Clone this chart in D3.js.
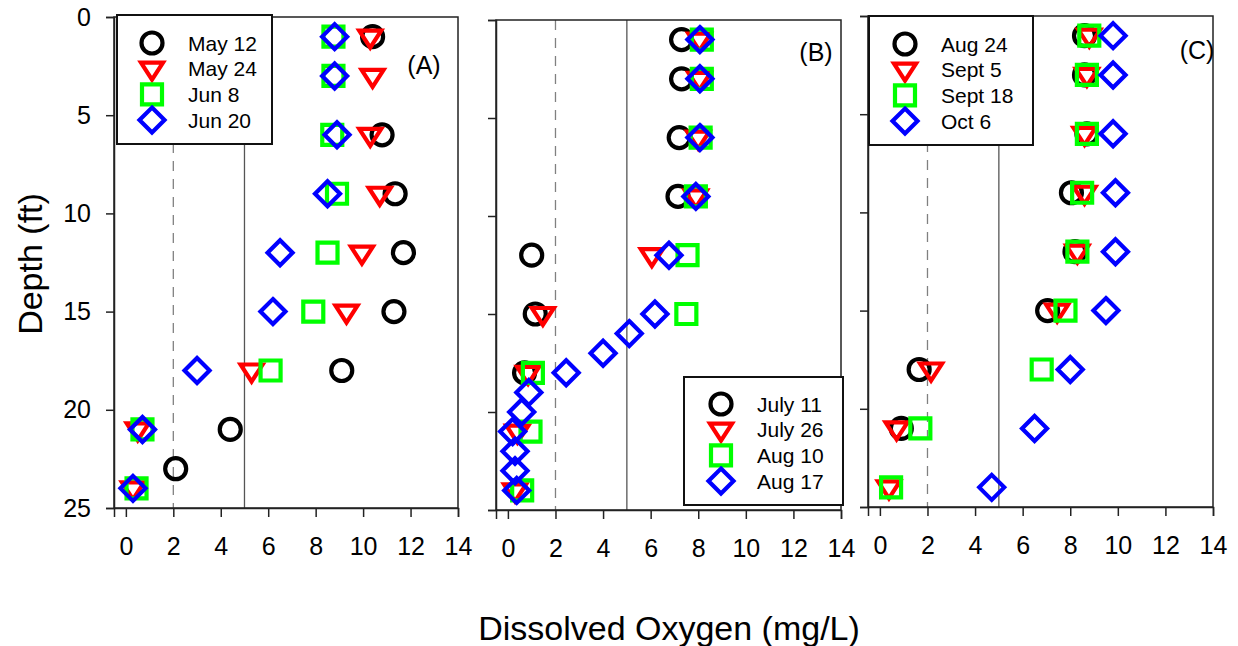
<!DOCTYPE html>
<html>
<head>
<meta charset="utf-8">
<script src="https://cdn.jsdelivr.net/npm/d3@7"></script>
<style>
    body { margin: 0; background: #fff; }
    svg { font-family: Arial, "Liberation Sans", sans-serif; }
</style>
</head>
<body>
<div id="chart"></div>
<script>
// depth (ft) of each profile reading
var depthStd = [1, 3, 6, 9, 12, 15, 18, 21, 24];
var depthMay12 = [1, 6, 9, 12, 15, 18, 21, 23];
var depthJuly11 = [1, 3, 6, 9, 12, 15, 18];
var depthAug17 = [1, 3, 6, 9, 12, 15, 16, 17, 18, 19, 20, 21, 22, 23, 24];
var depthAug24 = [1, 3, 6, 9, 12, 15, 18, 21];

// dissolved oxygen (mg/L)
var may12 = [10.4, 10.8, 11.35, 11.7, 11.3, 9.1, 4.4, 2.1];
var may24 = [10.3, 10.4, 10.3, 10.7, 9.95, 9.3, 5.3, 0.5, 0.3];
var jun8 = [8.75, 8.75, 8.7, 8.9, 8.5, 7.9, 6.1, 0.7, 0.45];
var jun20 = [8.8, 8.8, 8.9, 8.5, 6.5, 6.2, 3.0, 0.7, 0.3];

var july11 = [7.3, 7.3, 7.2, 7.15, 1.0, 1.15, 0.7];
var july26 = [8.05, 8.05, 8.0, 7.9, 6.05, 1.47, 0.85, 0.4, 0.3];
var aug10 = [8.15, 8.15, 8.1, 7.9, 7.55, 7.5, 1.05, 0.95, 0.6];
var aug17 = [8.07, 8.07, 8.07, 7.9, 6.77, 6.18, 5.1, 4.0, 2.45, 0.88, 0.58, 0.2, 0.3, 0.3, 0.37];

var aug24 = [8.6, 8.6, 8.7, 8.05, 8.2, 7.05, 1.65, 0.9];
var sept5 = [8.8, 8.7, 8.6, 8.6, 8.3, 7.45, 2.15, 0.7, 0.38];
var sept18 = [8.8, 8.7, 8.7, 8.5, 8.3, 7.8, 6.8, 1.7, 0.47];
var oct6 = [9.8, 9.8, 9.8, 9.9, 9.9, 9.5, 8.0, 6.5, 4.7];

var labelsA = ["May 12", "May 24", "Jun 8", "Jun 20"];
var labelsB = ["July 11", "July 26", "Aug 10", "Aug 17"];
var labelsC = ["Aug 24", "Sept 5", "Sept 18", "Oct 6"];

var xTicks = [0, 2, 4, 6, 8, 10, 12, 14];
var yTicks = [0, 5, 10, 15, 20, 25];
var refLines = [2, 5];   // dashed / solid guide lines

var colors = ["#000000", "#ff0000", "#00ff00", "#0000ff"];
var shapes = ["circle", "triangle", "square", "diamond"];

var width = 1238, height = 646;

var panels = [
    {left: 114, right: 458, top: 17, bottom: 508, tag: "(A)", tagX: 424, tagY: 65, yLabels: true,
        series: [[depthMay12, may12], [depthStd, may24], [depthStd, jun8], [depthStd, jun20]],
        labels: labelsA, legend: {x: 117, y: 15, w: 155, h: 129, sx: 152, tx: 188, ry: 43}},
    {left: 496, right: 841, top: 20, bottom: 510, tag: "(B)", tagX: 816, tagY: 52, yLabels: false,
        series: [[depthJuly11, july11], [depthStd, july26], [depthStd, aug10], [depthAug17, aug17]],
        labels: labelsB, legend: {x: 684, y: 377, w: 159, h: 128, sx: 721, tx: 757, ry: 404}},
    {left: 868, right: 1213, top: 16, bottom: 507, tag: "(C)", tagX: 1197, tagY: 50, yLabels: false,
        series: [[depthAug24, aug24], [depthStd, sept5], [depthStd, sept18], [depthStd, oct6]],
        labels: labelsC, legend: {x: 869, y: 16, w: 164, h: 129, sx: 905, tx: 941, ry: 44}}
];

function symbolPath(type) {
    if (type === "circle") {
        var r = 10.5;
        return "M" + r + ",0A" + r + "," + r + " 0 1,1 " + (-r) + ",0A" + r + "," + r + " 0 1,1 " + r + ",0Z";
    } else if (type === "triangle") {
        return "M-11,-6L11,-6L0,11Z";
    } else if (type === "square") {
        return "M-10,-10L10,-10L10,10L-10,10Z";
    }
    return "M0,-12.5L12.5,0L0,12.5L-12.5,0Z";
}

var svg = d3.select("#chart")
    .append("svg")
    .attr("width", width)
    .attr("height", height);

panels.forEach(function (p) {
    var x = d3.scaleLinear().domain([-0.5, 14]).range([p.left, p.right]);
    var y = d3.scaleLinear().domain([0, 25]).range([p.top, p.bottom]);
    var g = svg.append("g");

    // guide lines at 2 and 5 mg/L
    g.selectAll(".ref")
        .data(refLines)
        .enter()
        .append("line")
        .attr("x1", function (d) { return x(d); })
        .attr("x2", function (d) { return x(d); })
        .attr("y1", y(0))
        .attr("y2", y(25))
        .attr("stroke", function (d) { return d === 2 ? "#808080" : "#555"; })
        .attr("stroke-width", 1.3)
        .attr("stroke-dasharray", function (d) { return d === 2 ? "10,8" : null; });

    g.append("rect")
        .attr("x", x(-0.5))
        .attr("y", y(0))
        .attr("width", x(14) - x(-0.5))
        .attr("height", y(25) - y(0))
        .attr("fill", "none")
        .attr("stroke", "#222")
        .attr("stroke-width", 1.5);

    var xAxis = g.append("g")
        .attr("transform", "translate(0," + y(25) + ")")
        .call(d3.axisBottom(x).tickValues(xTicks).tickSize(9).tickPadding(20).tickFormat(d3.format("d")));

    var yAxis = g.append("g")
        .attr("transform", "translate(" + x(-0.5) + ",0)")
        .call(d3.axisLeft(y).tickValues(yTicks).tickSize(8).tickPadding(15)
            .tickFormat(p.yLabels ? d3.format("d") : ""));

    [xAxis, yAxis].forEach(function (a) {
        a.select(".domain").attr("stroke", "#222").attr("stroke-width", 1.5);
        a.selectAll(".tick line").attr("stroke", "#222").attr("stroke-width", 1.5);
        a.selectAll(".tick text")
            .attr("fill", "#000")
            .style("font-family", "Arial, 'Liberation Sans', sans-serif")
            .style("font-size", "25px");
    });

    // data points, black first so blue ends on top
    p.series.forEach(function (s, i) {
        var pts = s[0].map(function (d, k) { return {depth: d, val: s[1][k]}; });
        g.selectAll(".pt" + i)
            .data(pts)
            .enter()
            .append("path")
            .attr("d", symbolPath(shapes[i]))
            .attr("transform", function (d) {
                return "translate(" + x(d.val) + "," + y(d.depth) + ")";
            })
            .attr("fill", "none")
            .attr("stroke", colors[i])
            .attr("stroke-width", 4.2)
            .attr("stroke-linejoin", "miter");
    });

    var lg = p.legend;
    g.append("rect")
        .attr("x", lg.x)
        .attr("y", lg.y)
        .attr("width", lg.w)
        .attr("height", lg.h)
        .attr("fill", "#fff")
        .attr("stroke", "#111")
        .attr("stroke-width", 2);

    var item = g.selectAll(".legend")
        .data(p.labels)
        .enter()
        .append("g")
        .attr("transform", function (d, i) {
            return "translate(0," + (lg.ry + i * 25.7) + ")";
        });

    item.append("path")
        .attr("d", function (d, i) { return symbolPath(shapes[i]); })
        .attr("transform", "translate(" + lg.sx + ",0)")
        .attr("fill", "none")
        .attr("stroke", function (d, i) { return colors[i]; })
        .attr("stroke-width", 4.2);

    item.append("text")
        .attr("x", lg.tx)
        .attr("dy", "0.36em")
        .style("font-size", "21px")
        .text(function (d) { return d; });

    g.append("text")
        .attr("x", p.tagX)
        .attr("y", p.tagY)
        .attr("dy", "0.36em")
        .attr("text-anchor", "middle")
        .style("font-size", "25px")
        .text(p.tag);
});

svg.append("text")
    .attr("transform", "translate(30,264) rotate(-90)")
    .attr("dy", "0.36em")
    .attr("text-anchor", "middle")
    .style("font-size", "34px")
    .text("Depth (ft)");

svg.append("text")
    .attr("x", 669)
    .attr("y", 628)
    .attr("dy", "0.36em")
    .attr("text-anchor", "middle")
    .style("font-size", "34px")
    .text("Dissolved Oxygen (mg/L)");
</script>
</body>
</html>
